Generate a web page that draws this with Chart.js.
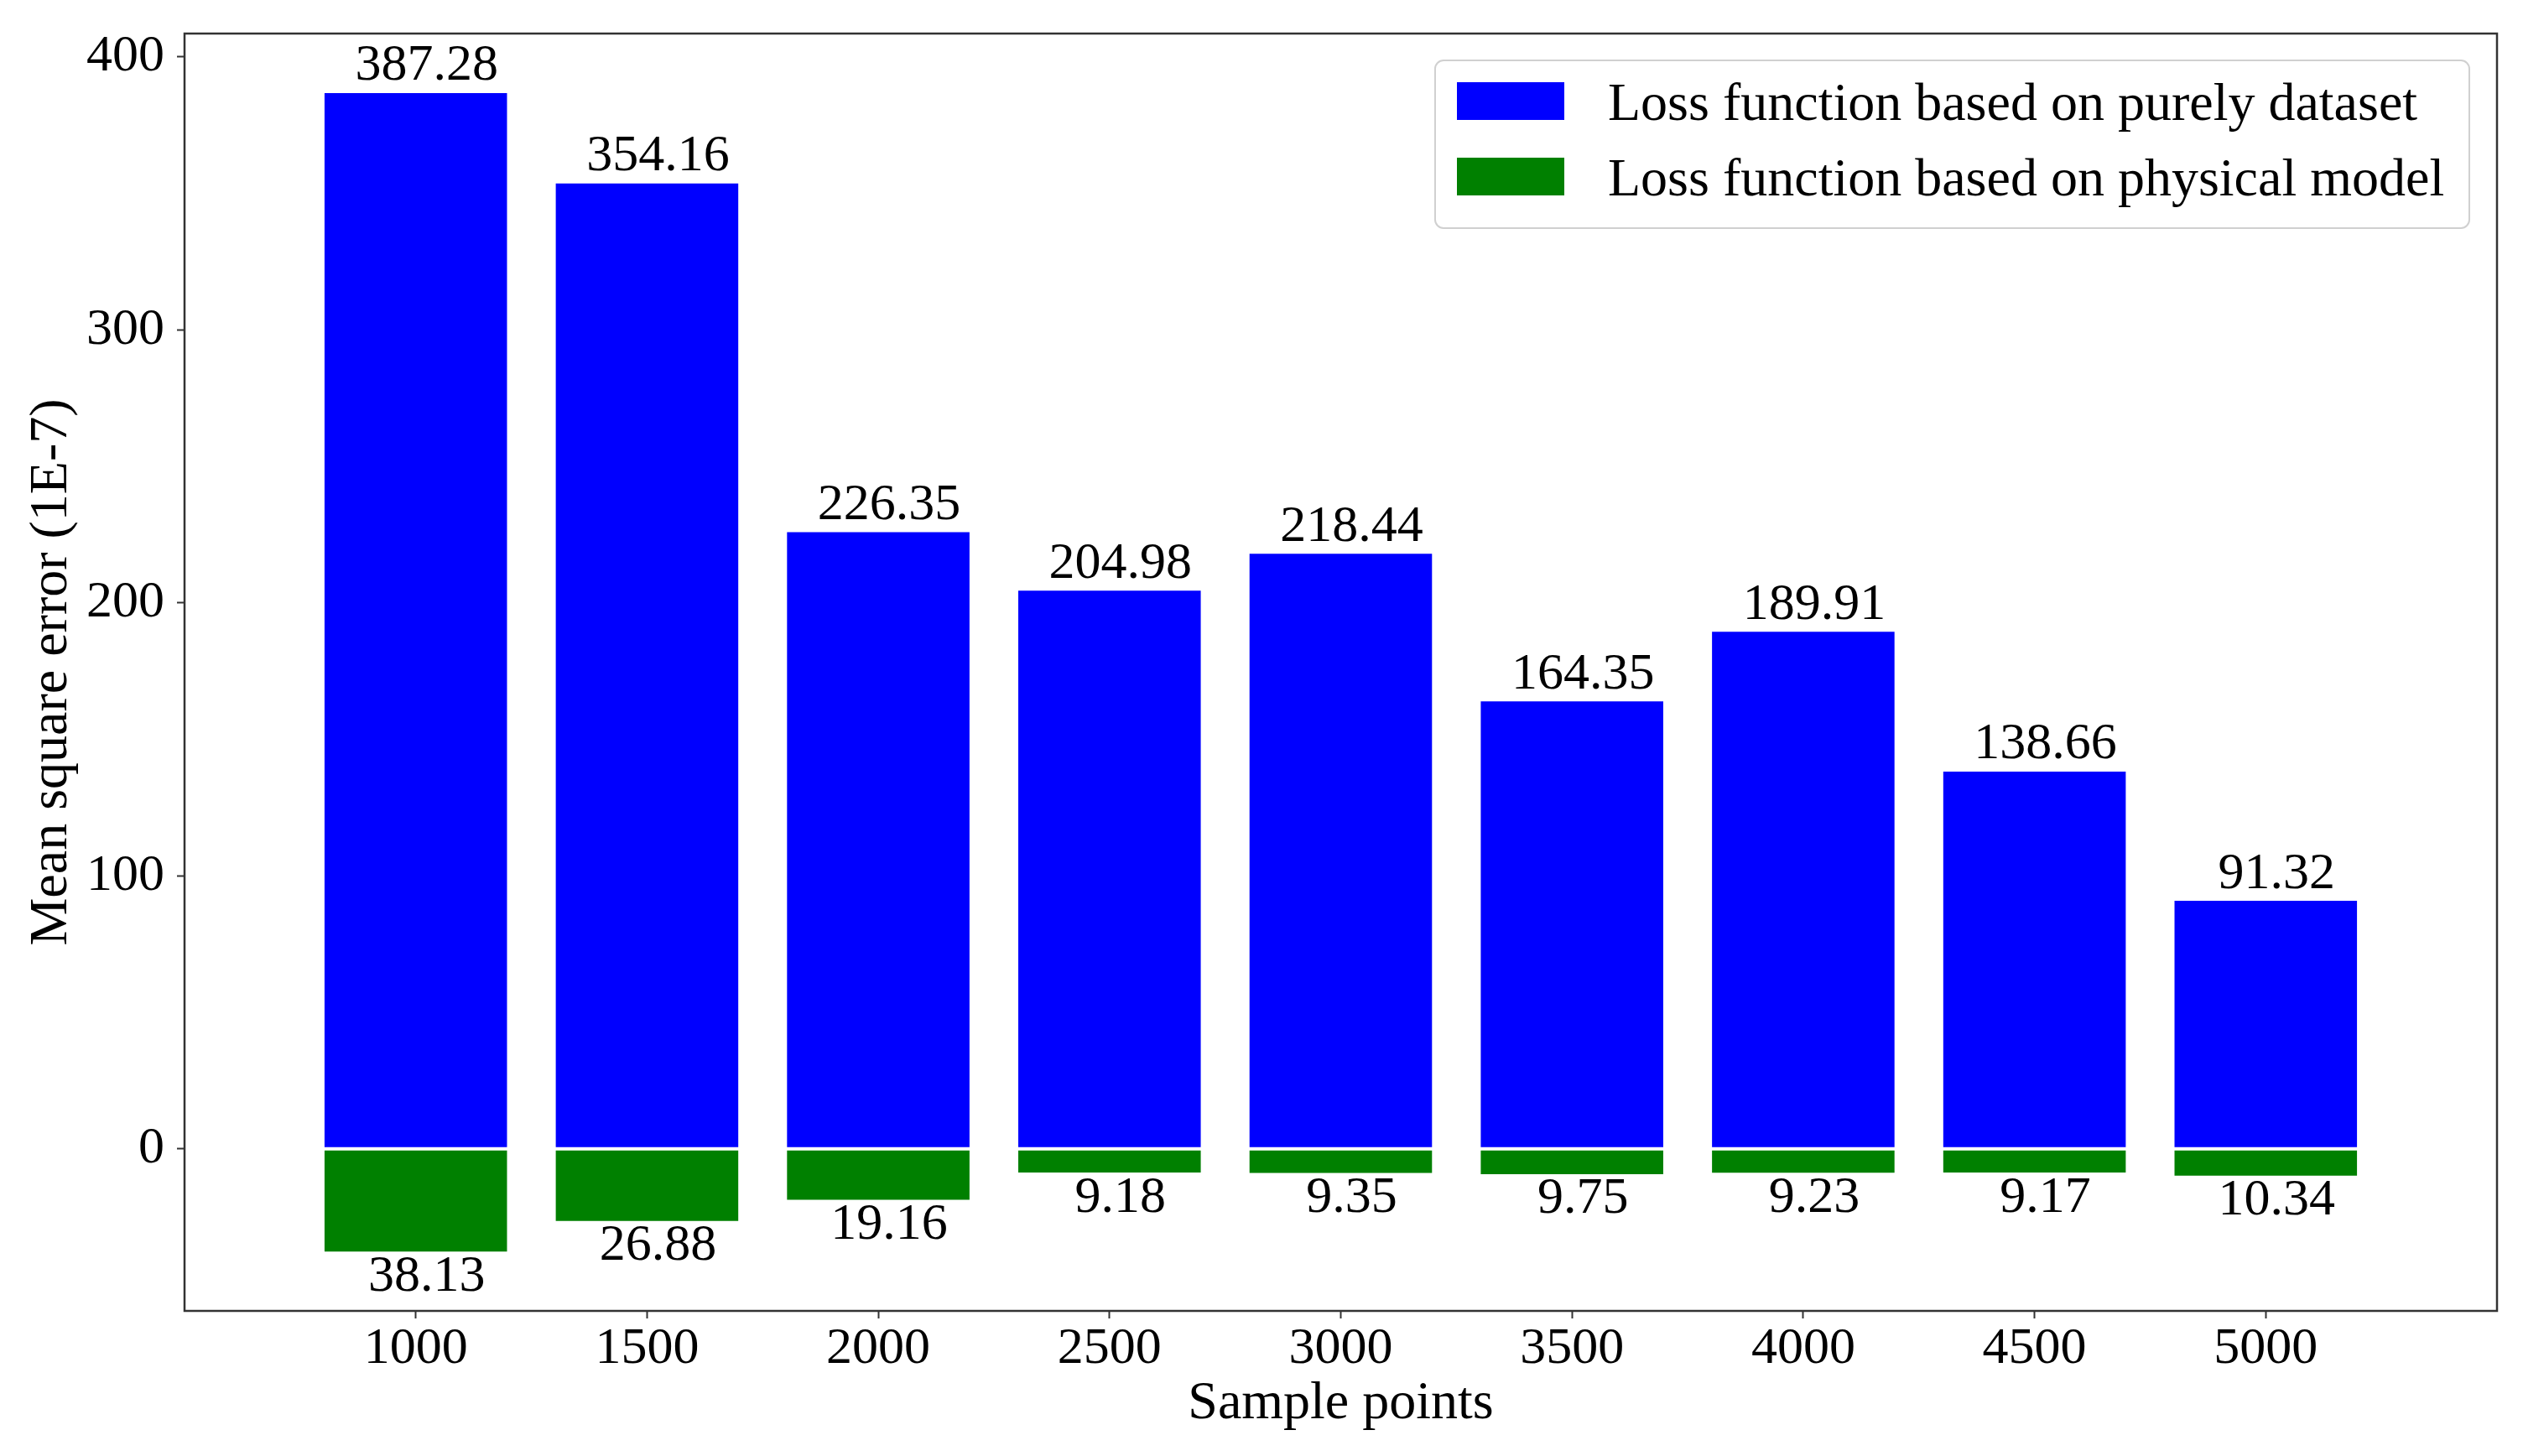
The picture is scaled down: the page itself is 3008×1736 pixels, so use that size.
<!DOCTYPE html>
<html>
<head>
<meta charset="utf-8">
<script src="https://cdn.jsdelivr.net/npm/chart.js@4.4.1/dist/chart.umd.min.js"></script>
<style>
  html, body { margin: 0; padding: 0; background: #fff; }
  #wrap { width: 3008px; height: 1736px; }
</style>
</head>
<body>
<div id="wrap"><canvas id="barChart"></canvas></div>
<script>
const samplePoints = [1000, 1500, 2000, 2500, 3000, 3500, 4000, 4500, 5000];
const datasetLoss = [387.28, 354.16, 226.35, 204.98, 218.44, 164.35, 189.91, 138.66, 91.32];
const physicalLoss = [38.13, 26.88, 19.16, 9.18, 9.35, 9.75, 9.23, 9.17, 10.34];
const yTicks = [0, 100, 200, 300, 400];
const seriesNames = ["Loss function based on purely dataset", "Loss function based on physical model"];

const serif = "'Liberation Serif', 'Times New Roman', serif";
const fontSize = 62;

// value labels above the blue bars and below the green ones
const valueLabels = {
  id: "valueLabels",
  afterDatasetsDraw(chart) {
    const ctx = chart.ctx;
    ctx.save();
    ctx.font = fontSize + "px " + serif;
    ctx.fillStyle = "#000";
    ctx.textAlign = "center";
    ctx.textBaseline = "alphabetic";
    chart.data.datasets.forEach(function(ds, di) {
      const meta = chart.getDatasetMeta(di);
      meta.data.forEach(function(bar, i) {
        const v = ds.data[i].y;
        const txt = Math.abs(v).toFixed(2);
        if (v >= 0) {
          ctx.fillText(txt, bar.x + 13, bar.y - 14);
        } else {
          ctx.fillText(txt, bar.x + 13, bar.y + 45);
        }
      });
    });
    ctx.restore();
  }
};

// axes frame and legend box inside the plot
const frameAndLegend = {
  id: "frameAndLegend",
  afterDraw(chart) {
    const ctx = chart.ctx;
    const a = chart.chartArea;
    ctx.save();
    ctx.strokeStyle = "#333";
    ctx.lineWidth = 2.5;
    ctx.strokeRect(a.left, a.top, a.right - a.left, a.bottom - a.top);

    const bx = a.right - 1266, by = a.top + 32, bw = 1233, bh = 200;
    ctx.beginPath();
    ctx.roundRect(bx, by, bw, bh, 10);
    ctx.fillStyle = "rgba(255,255,255,0.8)";
    ctx.fill();
    ctx.strokeStyle = "#d0d0d0";
    ctx.lineWidth = 2;
    ctx.stroke();

    ctx.font = "64px " + serif;
    ctx.textAlign = "left";
    ctx.textBaseline = "alphabetic";
    chart.data.datasets.forEach(function(ds, i) {
      const rowBottom = by + 71 + i * 90;
      ctx.fillStyle = ds.backgroundColor;
      ctx.fillRect(bx + 26, rowBottom - 45, 128, 45);
      ctx.fillStyle = "#000";
      ctx.fillText(ds.label, bx + 206, rowBottom);
    });
    ctx.restore();
  }
};

new Chart(document.getElementById("barChart"), {
  type: "bar",
  data: {
    datasets: [{
      label: seriesNames[0],
      data: samplePoints.map(function(x, i) { return { x: x, y: datasetLoss[i] }; }),
      backgroundColor: "#0000ff",
      borderColor: "#ffffff",
      borderWidth: 1.5,
      borderSkipped: false,
      grouped: false,
      barPercentage: 0.8,
      categoryPercentage: 1.0
    }, {
      label: seriesNames[1],
      data: samplePoints.map(function(x, i) { return { x: x, y: -physicalLoss[i] }; }),
      backgroundColor: "#008000",
      borderColor: "#ffffff",
      borderWidth: 1.5,
      borderSkipped: false,
      grouped: false,
      barPercentage: 0.8,
      categoryPercentage: 1.0
    }]
  },
  options: {
    responsive: true,
    maintainAspectRatio: false,
    devicePixelRatio: 1,
    animation: false,
    layout: { padding: { top: 40, right: 31, left: 0, bottom: 0 } },
    plugins: {
      legend: { display: false },
      tooltip: { enabled: false }
    },
    scales: {
      x: {
        type: "linear",
        min: 500,
        max: 5500,
        offset: false,
        afterBuildTicks: function(scale) {
          scale.ticks = samplePoints.map(function(v) { return { value: v }; });
        },
        afterFit: function(scale) {
          scale.height = 173;
          scale.paddingLeft = 0;
          scale.paddingRight = 0;
        },
        grid: { drawOnChartArea: false, offset: false, color: "#333", tickLength: 9, tickWidth: 2 },
        border: { display: false },
        ticks: {
          color: "#000",
          font: { family: serif, size: fontSize },
          padding: 0,
          maxRotation: 0,
          autoSkip: false,
          callback: function(v) { return String(v); }
        },
        title: {
          display: true,
          text: "Sample points",
          color: "#000",
          font: { family: serif, size: 64 },
          padding: { top: 0, bottom: 23 }
        }
      },
      y: {
        min: -59.4,
        max: 408.6,
        afterBuildTicks: function(scale) {
          scale.ticks = yTicks.map(function(v) { return { value: v }; });
        },
        afterFit: function(scale) {
          scale.width = 220;
          scale.paddingTop = 0;
          scale.paddingBottom = 0;
        },
        grid: { drawOnChartArea: false, color: "#333", tickLength: 9, tickWidth: 2 },
        border: { display: false },
        ticks: {
          color: "#000",
          font: { family: serif, size: fontSize },
          padding: 15
        },
        title: {
          display: true,
          text: "Mean square error (1E-7)",
          color: "#000",
          font: { family: serif, size: 64 },
          padding: { top: 24, bottom: 0 }
        }
      }
    }
  },
  plugins: [valueLabels, frameAndLegend]
});
</script>
</body>
</html>
